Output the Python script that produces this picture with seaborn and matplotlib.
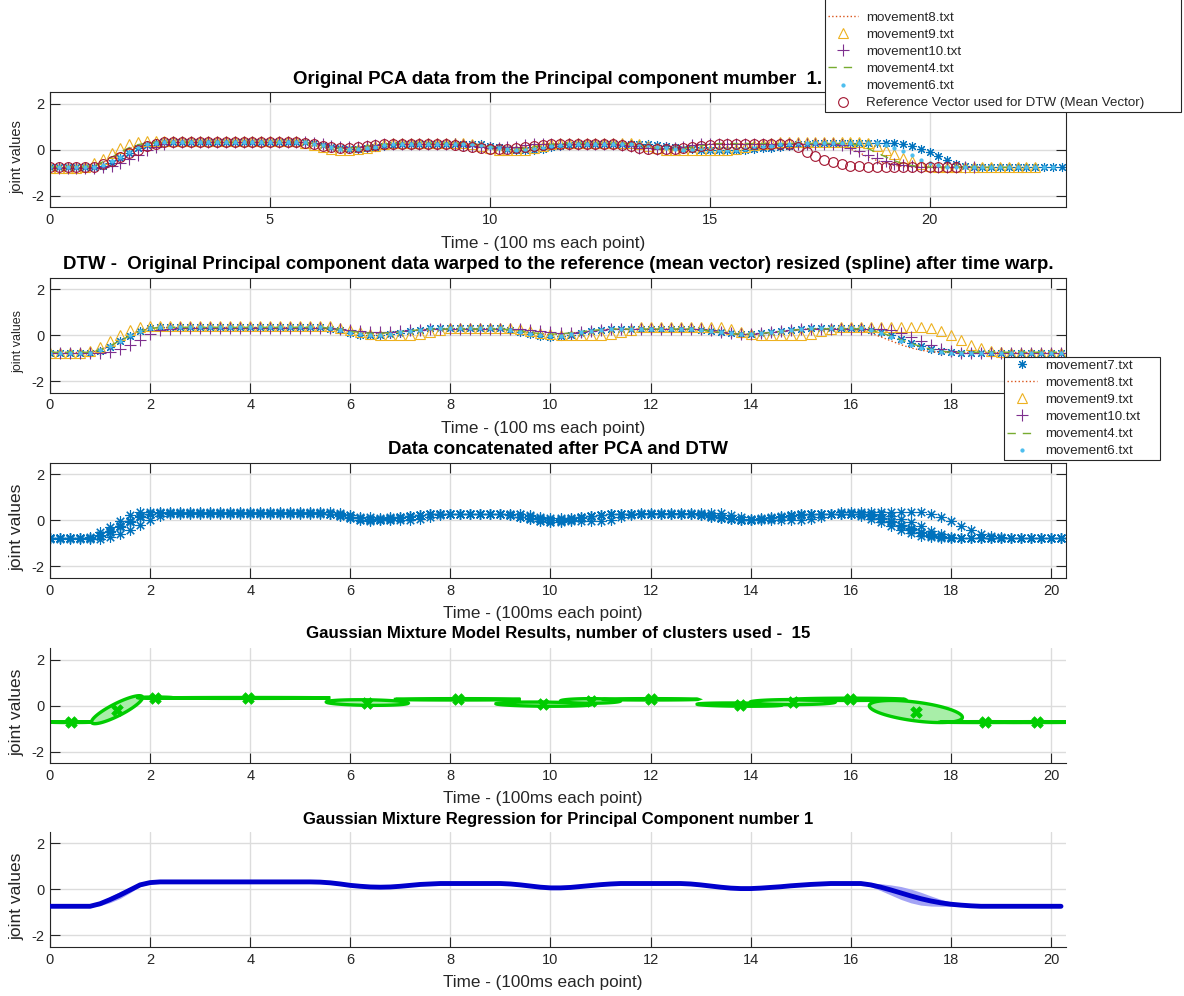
import numpy as np
import matplotlib
matplotlib.use('Agg')
import matplotlib.pyplot as plt
import seaborn as sns

# values are stored every second sample (0.2 on the time axis)
DT = 0.2

# ---- panel 1: original PCA data (one list per recording)
orig_mov7 = ([-0.76] * 6 + [-0.7, -0.55, -0.35, -0.12, 0.08, 0.22, 0.3] + [0.34] * 17 +
             [0.3, 0.23, 0.15, 0.08, 0.04, 0.04, 0.07, 0.12, 0.18, 0.23] + [0.28] * 9 +
             [0.24, 0.18, 0.11, 0.05, 0.0, -0.02, 0.0, 0.05, 0.12, 0.18, 0.23] + [0.27] * 9 +
             [0.23, 0.17, 0.11, 0.06, 0.03] + [0.02] * 6 + [0.04, 0.07, 0.1, 0.14, 0.19, 0.24, 0.27] +
             [0.3] * 10 + [0.26, 0.17, 0.05, -0.1, -0.27, -0.45, -0.6, -0.69, -0.73] + [-0.76] * 10)
orig_mov8 = ([-0.76] * 5 + [-0.7, -0.55, -0.35, -0.14, 0.06, 0.2, 0.29] + [0.34] * 18 +
             [0.28, 0.2, 0.13, 0.08, 0.07, 0.1, 0.15, 0.2, 0.24] + [0.27] * 9 +
             [0.22, 0.15, 0.09, 0.05, 0.05, 0.08, 0.14, 0.2, 0.24] + [0.27] * 9 +
             [0.21, 0.14, 0.08, 0.05, 0.05, 0.08, 0.13, 0.18, 0.23] + [0.27] * 15 +
             [0.18, 0.04, -0.12, -0.3, -0.46, -0.59, -0.67, -0.72] + [-0.75] * 10)
orig_mov9 = ([-0.78] * 4 + [-0.72, -0.58, -0.38, -0.15, 0.08, 0.25, 0.35] + [0.38] * 18 +
             [0.32, 0.22, 0.12, 0.04, 0.0, 0.0, 0.04, 0.1, 0.17, 0.24] + [0.3] * 9 +
             [0.24, 0.16, 0.08, 0.02, -0.02, -0.02, 0.02, 0.09, 0.17, 0.24] + [0.3] * 9 +
             [0.24, 0.16, 0.08, 0.02] + [-0.01] * 7 + [0.04, 0.12, 0.2, 0.27, 0.32] + [0.36] * 10 +
             [0.3, 0.18, 0.02, -0.16, -0.34, -0.5, -0.63, -0.71] + [-0.76] * 12)
orig_mov10 = ([-0.8] * 6 + [-0.76, -0.68, -0.55, -0.38, -0.2, -0.02, 0.15, 0.26] + [0.33] * 16 +
              [0.3, 0.24, 0.18, 0.14, 0.13, 0.15, 0.19, 0.23] + [0.27] * 9 +
              [0.23, 0.18, 0.13, 0.1, 0.09, 0.11, 0.15, 0.2, 0.24] + [0.27] * 9 +
              [0.22, 0.16, 0.1, 0.07, 0.06, 0.07, 0.1, 0.15, 0.2, 0.24] + [0.27] * 15 +
              [0.2, 0.08, -0.05, -0.2, -0.35, -0.5, -0.6, -0.67, -0.71] + [-0.74] * 7)
orig_mov4 = ([-0.74] * 5 + [-0.68, -0.52, -0.32, -0.1, 0.1, 0.23, 0.3] + [0.33] * 18 +
             [0.27, 0.19, 0.12, 0.08, 0.08, 0.11, 0.16, 0.21, 0.25] + [0.28] * 10 +
             [0.22, 0.14, 0.07, 0.03, 0.03, 0.07, 0.13, 0.2, 0.25] + [0.28] * 9 +
             [0.22, 0.14, 0.07, 0.03, 0.03, 0.06, 0.12, 0.18, 0.23] + [0.28] * 16 +
             [0.2, 0.06, -0.12, -0.3, -0.47, -0.6, -0.68, -0.72] + [-0.75] * 10)
orig_mov6 = ([-0.74] * 6 + [-0.66, -0.5, -0.3, -0.08, 0.12, 0.25, 0.31] + [0.33] * 17 +
             [0.28, 0.2, 0.12, 0.06, 0.03, 0.04, 0.08, 0.14, 0.2, 0.24] + [0.27] * 9 +
             [0.22, 0.15, 0.08, 0.03, 0.0, 0.0, 0.04, 0.1, 0.17, 0.22] + [0.26] * 9 +
             [0.21, 0.14, 0.08, 0.04, 0.02] + [0.02] * 6 + [0.05, 0.09, 0.14, 0.19, 0.24, 0.27] +
             [0.29] * 10 + [0.22, 0.1, -0.06, -0.24, -0.42, -0.57, -0.67, -0.72] + [-0.75] * 12)
orig_ref = ([-0.75] * 5 + [-0.72, -0.62, -0.48, -0.32, -0.15, 0.02, 0.17, 0.28, 0.33] + [0.35] * 15 +
            [0.32, 0.24, 0.16, 0.11, 0.09, 0.1, 0.14, 0.19, 0.23] + [0.26] * 8 +
            [0.23, 0.18, 0.12, 0.07, 0.04, 0.03, 0.05, 0.09, 0.14, 0.19, 0.23] + [0.26] * 8 +
            [0.22, 0.16, 0.1, 0.05, 0.03, 0.03, 0.04, 0.07, 0.11, 0.16, 0.21, 0.25] + [0.28] * 7 +
            [0.25, 0.12, -0.1, -0.27, -0.42, -0.53, -0.62, -0.68, -0.71] + [-0.73] * 11)

# ---- panel 2/3: data after DTW (all same length)
warp_mov7 = ([-0.78] * 5 + [-0.68, -0.5, -0.28, -0.05, 0.18, 0.3] + [0.34] * 17 +
             [0.28, 0.2, 0.1, 0.02, -0.02, 0.0, 0.04, 0.1, 0.17, 0.24] + [0.3] * 8 +
             [0.24, 0.15, 0.05, -0.04, -0.08, -0.06, 0.02, 0.1, 0.18, 0.24] + [0.28] * 9 +
             [0.24, 0.18, 0.12, 0.07, 0.04, 0.04, 0.07, 0.12, 0.17, 0.22, 0.26] + [0.3] * 6 +
             [0.24, 0.12, -0.02, -0.18, -0.34, -0.48, -0.6, -0.68, -0.73] + [-0.78] * 11)
warp_mov8 = ([-0.76] * 5 + [-0.66, -0.48, -0.26, -0.04, 0.17, 0.29] + [0.33] * 17 +
             [0.29, 0.22, 0.15, 0.09, 0.06, 0.06, 0.09, 0.14, 0.19, 0.23] + [0.26] * 8 +
             [0.22, 0.16, 0.1, 0.05, 0.03, 0.04, 0.08, 0.13, 0.18, 0.22] + [0.26] * 9 +
             [0.22, 0.16, 0.1, 0.05, 0.03, 0.03, 0.06, 0.1, 0.15, 0.2, 0.24] + [0.27] * 5 +
             [0.2, 0.08, -0.08, -0.25, -0.42, -0.56, -0.66, -0.72] + [-0.76] * 13)
warp_mov9 = ([-0.78] * 4 + [-0.7, -0.52, -0.28, -0.02, 0.22, 0.35] + [0.38] * 19 +
             [0.32, 0.22, 0.12, 0.04] + [0.0] * 4 + [0.05, 0.14, 0.23] + [0.3] * 7 +
             [0.26, 0.18, 0.1, 0.03] + [-0.02] * 5 + [0.04, 0.13, 0.22] + [0.33] * 9 +
             [0.25, 0.14, 0.05] + [0.0] * 5 + [0.06, 0.16, 0.26] + [0.36] * 9 +
             [0.3, 0.16, -0.02, -0.22, -0.42, -0.58, -0.68, -0.73] + [-0.76] * 6)
warp_mov10 = ([-0.8] * 6 + [-0.74, -0.6, -0.42, -0.2, 0.03, 0.2, 0.28] + [0.3] * 16 +
              [0.27, 0.22, 0.17, 0.13, 0.12, 0.13, 0.16, 0.2, 0.23] + [0.26] * 10 +
              [0.22, 0.16, 0.11, 0.09, 0.1, 0.14, 0.19, 0.23] + [0.27] * 10 +
              [0.22, 0.15, 0.09, 0.06, 0.06, 0.09, 0.14, 0.19, 0.24] + [0.28] * 9 +
              [0.2, 0.08, -0.08, -0.26, -0.44, -0.6, -0.7] + [-0.76] * 11)
warp_mov4 = ([-0.75] * 5 + [-0.64, -0.46, -0.25, -0.03, 0.17, 0.29] + [0.33] * 17 +
             [0.3, 0.24, 0.17, 0.11, 0.08, 0.08, 0.1, 0.14, 0.19, 0.23] + [0.26] * 8 +
             [0.23, 0.17, 0.11, 0.06, 0.04, 0.05, 0.09, 0.14, 0.19, 0.23] + [0.26] * 9 +
             [0.23, 0.17, 0.11, 0.06, 0.04, 0.04, 0.07, 0.11, 0.16, 0.2, 0.24] + [0.27] * 6 +
             [0.21, 0.1, -0.04, -0.2, -0.36, -0.5, -0.62, -0.7] + [-0.75] * 12)
warp_mov6 = ([-0.77] * 5 + [-0.66, -0.47, -0.25, -0.02, 0.19, 0.3] + [0.34] * 17 +
             [0.29, 0.2, 0.1, 0.03, 0.0, 0.01, 0.05, 0.11, 0.18, 0.24] + [0.29] * 8 +
             [0.23, 0.14, 0.05, -0.02, -0.05, -0.03, 0.04, 0.12, 0.19, 0.24] + [0.28] * 9 +
             [0.24, 0.18, 0.12, 0.07, 0.04, 0.04, 0.07, 0.12, 0.17, 0.22, 0.26] + [0.29] * 6 +
             [0.22, 0.08, -0.08, -0.26, -0.42, -0.56, -0.66, -0.72] + [-0.77] * 12)

# ---- panel 4: GMM, 15 clusters (centre, half length in time, slope, half thickness)
gmm_t = [0.41, 1.34, 2.1, 3.95, 6.34, 8.15, 9.86, 10.8, 12.0, 13.78, 14.84, 15.98, 17.3, 18.68, 19.72]
gmm_y = [-0.72, -0.18, 0.34, 0.33, 0.13, 0.27, 0.06, 0.2, 0.27, 0.04, 0.15, 0.27, -0.26, -0.72, -0.72]
gmm_len = [0.42, 0.51, 0.35, 1.65, 0.82, 1.25, 0.95, 0.6, 0.95, 0.85, 0.85, 1.1, 0.93, 0.9, 0.75]
gmm_slope = [0.0, 1.04, 0.0, 0.0, -0.03, 0.0, -0.02, 0.0, 0.0, -0.02, 0.0, 0.0, -0.27, 0.0, 0.0]
gmm_thick = [0.02, 0.3, 0.03, 0.02, 0.12, 0.03, 0.09, 0.1, 0.03, 0.07, 0.11, 0.05, 0.41, 0.02, 0.02]

# ---- panel 5: GMR mean and spread
gmr_mean = ([-0.73] * 5 + [-0.62, -0.44, -0.24, -0.02, 0.2, 0.3] + [0.33] * 16 +
            [0.32, 0.29, 0.24, 0.18, 0.14, 0.11, 0.1, 0.11, 0.14, 0.18, 0.22, 0.24] + [0.26] * 7 +
            [0.24, 0.2, 0.15, 0.1, 0.07, 0.07, 0.09, 0.13, 0.17, 0.21, 0.24] + [0.26] * 7 +
            [0.24, 0.2, 0.15, 0.1, 0.06, 0.04, 0.04, 0.06, 0.09, 0.12, 0.16, 0.19, 0.22, 0.24] +
            [0.26] * 4 + [0.2, 0.1, -0.02, -0.15, -0.28, -0.4, -0.5, -0.58, -0.64, -0.68, -0.71] +
            [-0.73] * 9)
gmr_std = ([0.03] * 5 + [0.08, 0.13, 0.15, 0.12, 0.07] + [0.04] * 72 +
           [0.08, 0.15, 0.22, 0.28, 0.3, 0.28, 0.22, 0.15, 0.09, 0.05] + [0.03] * 10)

names = ['movement7.txt', 'movement8.txt', 'movement9.txt', 'movement10.txt',
         'movement4.txt', 'movement6.txt']
ref_name = 'Reference Vector used for DTW (Mean Vector)'
colors = ['#0072BD', '#D95319', '#EDB120', '#7E2F8E', '#77AC30', '#4DBEEE']
styles = [dict(marker=(8, 2, 0), linestyle='none', markersize=6.5),
          dict(marker='', linestyle=':', linewidth=1),
          dict(marker='^', linestyle='none', markersize=7.5, markerfacecolor='none'),
          dict(marker='+', linestyle='none', markersize=8.5),
          dict(marker='', linestyle=(0, (6, 5)), linewidth=1),
          dict(marker='.', linestyle='none', markersize=4.5)]

sns.set_theme(style='ticks')
plt.rcParams['font.family'] = ['Liberation Sans', 'DejaVu Sans']
plt.rcParams['axes.unicode_minus'] = False
plt.rcParams['text.color'] = '#262626'
plt.rcParams['axes.labelcolor'] = '#262626'
plt.rcParams['xtick.color'] = '#262626'
plt.rcParams['ytick.color'] = '#262626'


def series(ax, vals, color, **kw):
    t = np.arange(len(vals)) * DT
    sns.lineplot(x=t, y=vals, ax=ax, estimator=None, sort=False, color=color,
                 markeredgecolor=color, markeredgewidth=0.8, **kw)
    return ax.lines[-1]


def style_axes(ax, xmax, xstep, box):
    ax.set_xlim(0, xmax)
    ax.set_ylim(-2.5, 2.5)
    ax.set_xticks(np.arange(0, xmax, xstep))
    ax.set_yticks([-2, 0, 2])
    ax.grid(True, color='#dcdcdc', linewidth=1.0)
    ax.set_axisbelow(True)
    for s in ax.spines.values():
        s.set_color('#262626')
        s.set_linewidth(0.8)
    ax.spines['top'].set_visible(box)
    ax.spines['right'].set_visible(box)
    ax.tick_params(direction='in', length=7, width=0.8, labelsize=10.5, pad=4,
                   top=box, right=box)


fig = plt.figure(figsize=(11.84, 9.96), dpi=100)
L, W, H = 50 / 1184, 1016 / 1184, 115 / 996
bottoms = [0.7917, 0.6059, 0.4197, 0.2339, 0.0492]
axes = [fig.add_axes([L, b, W, H]) for b in bottoms]


def labels(ax, title, tsize, xlab, ylab_size, title_off):
    ax.text(0.5, 1 + title_off / 115, title, transform=ax.transAxes, ha='center',
            va='center', fontsize=tsize, fontweight='bold', color='black')
    ax.set_xlabel(xlab, fontsize=12.3)
    ax.xaxis.set_label_coords(0.485, -0.245)
    ax.set_ylabel('joint values', fontsize=ylab_size)
    ax.yaxis.set_label_coords(-0.025, 0.44)


def legend(ax, handles, texts, x0, x1, ybottom, spacer):
    leg = ax.legend(handles, texts, loc='lower left', mode='expand',
                    bbox_to_anchor=(x0 / 1184, 1 - ybottom / 996, (x1 - x0) / 1184, 0),
                    bbox_transform=fig.transFigure, borderaxespad=0, fontsize=9.6,
                    frameon=True, fancybox=False, edgecolor='#262626', framealpha=1,
                    numpoints=1, handlelength=2.3, handletextpad=0.6,
                    labelspacing=0.36, borderpad=0.2,
                    title=spacer, title_fontsize=14)
    leg.get_frame().set_linewidth(0.8)
    return leg


# panel 1
ax = axes[0]
h1 = []
for vals, c, st in zip([orig_mov7, orig_mov8, orig_mov9, orig_mov10, orig_mov4, orig_mov6],
                       colors, styles):
    h1.append(series(ax, vals, c, **st))
h1.append(series(ax, orig_ref, '#A2142F', marker='o', linestyle='none', markersize=7,
                 markerfacecolor='none'))
style_axes(ax, 23.1, 5, True)
labels(ax, 'Original PCA data from the Principal component mumber  1.', 13.4,
       'Time - (100 ms each point)', 10.5, 12.5)
# the top entry (movement7.txt) of this legend lies above the figure edge
legend(ax, h1[1:], names[1:] + [ref_name], 825, 1181, 112, ' ')

# panel 2
ax = axes[1]
h2 = []
for vals, c, st in zip([warp_mov7, warp_mov8, warp_mov9, warp_mov10, warp_mov4, warp_mov6],
                       colors, styles):
    h2.append(series(ax, vals, c, **st))
style_axes(ax, 20.3, 2, True)
# the "20" label sits under the legend in the original, leave it blank
ax.set_xticklabels([str(v) for v in range(0, 20, 2)] + [''])
labels(ax, 'DTW -  Original Principal component data warped to the reference (mean vector) '
       'resized (spline) after time warp.', 13.4, 'Time - (100 ms each point)', 9, 13.5)
legend(ax, h2, names, 1004, 1160, 460, None)

# panel 3: all warped data concatenated
ax = axes[2]
for vals in [warp_mov7, warp_mov8, warp_mov9, warp_mov10, warp_mov4, warp_mov6]:
    series(ax, vals, '#0072BD', marker=(8, 2, 0), linestyle='none', markersize=7.5)
style_axes(ax, 20.3, 2, True)
labels(ax, 'Data concatenated after PCA and DTW', 13.4, 'Time - (100ms each point)', 12.5, 13)

# panel 4: GMM ellipses
ax = axes[3]
th = np.linspace(0, 2 * np.pi, 80)
for ct, cy, a, s, b in zip(gmm_t, gmm_y, gmm_len, gmm_slope, gmm_thick):
    ex = ct + a * np.cos(th)
    ey = cy + s * a * np.cos(th) + b * np.sin(th)
    ax.fill(ex, ey, facecolor='#a8eea8', edgecolor='#00cc00', linewidth=2.4, zorder=2)
sns.scatterplot(x=gmm_t, y=gmm_y, ax=ax, marker='X', s=70, color='#00cc00',
                edgecolor='#00cc00', linewidth=0.5, zorder=3)
style_axes(ax, 20.3, 2, False)
labels(ax, 'Gaussian Mixture Model Results, number of clusters used -  15', 12.2,
       'Time - (100ms each point)', 12.5, 15)

# panel 5: GMR
ax = axes[4]
tg = np.arange(len(gmr_mean)) * DT
mean = np.array(gmr_mean)
std = np.array(gmr_std)
ax.fill_between(tg, mean - std, mean + std, color='#a3a3f5', linewidth=0, zorder=2)
sns.lineplot(x=tg, y=mean, ax=ax, estimator=None, sort=False, color='#0000cc',
             linewidth=3.5, zorder=3)
style_axes(ax, 20.3, 2, False)
labels(ax, 'Gaussian Mixture Regression for Principal Component number 1', 12.0,
       'Time - (100ms each point)', 12.5, 12)

fig.savefig('out.png', dpi=100)
